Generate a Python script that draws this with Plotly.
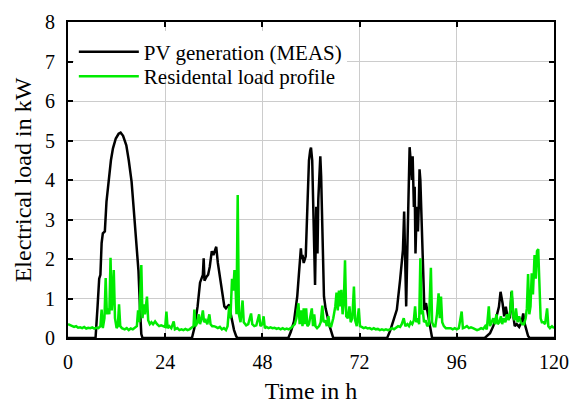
import plotly.graph_objects as go

# PV generation (MEAS) keypoints
pv_t = [0, 6.8, 7.3, 7.7, 8.0, 8.3, 8.6, 9.1, 9.5, 10.0, 10.2, 10.6, 11.1, 11.8, 12.5, 13.0, 13.6, 14.4, 15.0, 15.7,
        16.2, 16.5, 17.0, 17.2, 17.4, 17.8, 18.1, 18.4,
        30.6, 31.2, 32.0, 32.6, 32.9, 33.3, 33.5, 33.7, 34.2, 34.6, 35.0, 35.2, 35.5, 35.9, 36.3, 36.6, 37.0, 37.4,
        37.8, 38.2, 38.6, 39.0, 39.4, 39.8, 40.2, 40.6, 41.0, 41.5, 41.8,
        54.4, 55.0, 55.8, 56.2, 56.6, 57.0, 57.5, 57.7, 57.9, 58.2, 58.7, 59.1, 59.5, 59.8, 60.0, 60.3, 60.6, 61.0,
        61.3, 61.6, 61.8, 62.0, 62.3, 62.5, 62.8, 63.2, 63.6, 64.0, 64.6, 65.2, 65.5,
        78.8, 79.6, 80.4, 81.2, 82.0, 82.7, 83.0, 83.3, 83.5, 83.8, 84.2, 84.35, 84.6, 84.9, 85.1, 85.4, 85.6, 85.8,
        86.1, 86.4, 86.6, 86.8, 87.0, 87.4, 87.8, 88.0, 88.2, 88.4, 88.7, 89.0, 89.4, 89.9,
        102.9, 104.2, 105.0, 105.8, 106.4, 106.8, 107.3, 107.7, 108.1, 108.5, 109.1, 109.5, 109.9, 110.3, 110.8,
        111.4, 112.0, 112.4, 112.8, 113.2, 113.6, 114.0, 120]
pv_v = [0, 0, 0.8, 1.5, 1.6, 2.4, 2.65, 2.7, 3.45, 3.9, 4.2, 4.5, 4.8, 5.05, 5.17, 5.2, 5.12, 4.88, 4.5, 3.96,
        3.3, 2.86, 2.2, 1.85, 1.7, 0.7, 0.1, 0,
        0, 0.25, 0.8, 1.4, 1.5, 1.6, 2.02, 1.45, 1.55, 1.6, 1.8, 1.97, 2.2, 2.1, 2.25, 2.31, 1.9, 1.6,
        1.3, 1.0, 0.8, 0.75, 0.8, 0.85, 0.6, 0.4, 0.2, 0.05, 0,
        0, 0.15, 0.42, 0.7, 1.05, 1.6, 2.27, 2.0, 2.1, 1.9, 2.07, 3.3, 4.5, 4.75, 4.82, 4.5, 3.3, 1.34,
        3.32, 2.14, 3.5, 4.17, 4.6, 4.1, 2.5, 1.05, 0.75, 0.54, 0.3, 0.1, 0,
        0, 0.2, 0.46, 0.72, 1.47, 2.23, 3.2, 1.47, 0.8, 2.3, 4.17, 4.83, 4.5, 4.0, 4.6, 3.32, 3.83, 2.14,
        3.32, 2.7, 3.3, 4.27, 4.0, 2.48, 1.22, 0.71, 0.85, 0.88, 0.7, 0.5, 0.25, 0,
        0, 0.12, 0.3, 0.54, 0.79, 1.17, 0.88, 0.55, 0.79, 0.55, 0.5, 1.17, 0.6, 0.3, 0.35,
        0.28, 0.4, 0.62, 0.35, 0.2, 0.05, 0, 0]

# Residental load profile keypoints
load_t = [0, 0.5, 1, 1.5, 2, 2.5, 3, 3.5, 4, 4.5, 5, 5.5, 6, 6.5, 7, 7.5, 8, 8.3, 8.6, 9, 9.3, 9.6, 9.9, 10.2,
          10.5, 10.8, 11.0, 11.3, 11.6, 12.0, 12.3, 12.6, 12.9, 13.3, 14, 14.5, 15, 15.5, 16, 16.5, 17, 17.3,
          17.6, 18.1, 18.4, 18.7, 19.0, 19.5, 19.8, 20.2, 20.6, 21, 21.5, 22, 22.5, 23, 23.5, 24, 24.3, 24.6,
          25, 25.5, 26.1, 26.4, 27, 27.5, 28, 28.5, 29, 29.5, 30, 30.5, 31, 31.2, 31.5, 32, 32.3, 32.6, 33,
          33.3, 33.6, 34, 34.4, 34.9, 35.2, 35.6, 36, 36.5, 37, 37.5, 38, 38.5, 39, 39.4, 39.8, 40.1, 40.5,
          40.8, 41.1, 41.4, 41.6, 41.9, 42.2, 42.6, 43.1, 43.4, 44, 44.5, 45.2, 45.5, 46, 46.5, 47.2, 47.5,
          48, 48.3, 48.6, 49, 49.5, 50, 50.5, 51, 51.5, 52, 52.5, 53, 53.5, 54, 54.5, 55, 55.5, 56, 56.4,
          56.9, 57.2, 57.6, 57.9, 58.2, 58.5, 58.8, 59.1, 59.5, 60.2, 60.5, 60.8, 61.1, 61.5, 62, 62.4, 62.8,
          63.1, 63.5, 63.9, 64.3, 64.6, 65.0, 65.5, 66.0, 66.3, 66.6, 66.9, 67.2, 67.5, 67.8, 68.1, 68.4,
          68.7, 69.1, 69.5, 69.8, 70.2, 70.6, 70.9, 71.3, 71.8, 72.1, 72.5, 73, 73.5, 74, 74.5, 75, 75.5,
          76, 76.5, 77, 77.5, 78, 78.5, 79, 79.5, 80, 80.5, 81, 81.5, 82, 82.4, 82.9, 83.3, 83.8, 84.2, 84.6,
          85.0, 85.4, 85.7, 86.0, 86.4, 86.7, 87.0, 87.3, 87.6, 87.9, 88.3, 88.7, 89.1, 89.6, 89.9, 90.3,
          90.7, 91.1, 91.5, 91.8, 92.1, 92.4, 92.8, 93.3, 94, 94.5, 95, 95.5, 96, 96.5, 97.2, 97.5, 98, 98.5,
          99, 99.5, 100, 100.5, 101, 101.5, 102, 102.5, 103, 103.4, 103.9, 104.2, 104.6, 105.0, 105.4,
          105.8, 106.1, 106.5, 106.9, 107.2, 107.6, 108.0, 108.4, 108.8, 109.2, 109.6, 109.9, 110.3, 110.6,
          111.0, 111.4, 111.8, 112.2, 112.6, 113.0, 113.3, 113.6, 113.9, 114.2, 114.5, 114.8, 115.2, 115.5,
          115.8, 116.1, 116.4, 116.7, 117.0, 117.4, 117.8, 118.3, 118.6, 119.0, 119.5, 120]
load_v = [0.35, 0.32, 0.3, 0.28, 0.3, 0.26, 0.27, 0.25, 0.28, 0.24, 0.26, 0.25, 0.27, 0.24, 0.26, 0.25, 0.3,
          0.72, 0.25, 0.5, 1.52, 0.6, 0.75, 0.6, 2.03, 0.7, 1.0, 1.72, 0.5, 0.25, 0.3, 0.85, 0.3, 0.25, 0.22,
          0.25, 0.2, 0.24, 0.22, 0.25, 0.3, 0.7, 0.4, 1.85, 0.5, 0.85, 0.6, 1.05, 0.45, 0.35, 0.4, 0.35, 0.42,
          0.35, 0.3, 0.32, 0.3, 0.28, 0.67, 0.25, 0.3, 0.25, 0.42, 0.22, 0.25, 0.2, 0.22, 0.2, 0.23, 0.2,
          0.22, 0.25, 0.3, 0.72, 0.3, 0.4, 0.6, 0.35, 0.5, 0.7, 0.4, 0.45, 0.35, 0.6, 0.35, 0.3, 0.3, 0.28,
          0.25, 0.28, 0.22, 0.25, 0.2, 0.3, 0.8, 0.5, 1.5, 1.2, 1.72, 1.2, 0.6, 3.62, 0.6, 0.4, 0.95, 0.4,
          0.32, 0.35, 0.62, 0.35, 0.3, 0.32, 0.6, 0.3, 0.35, 0.55, 0.25, 0.28, 0.25, 0.27, 0.25, 0.26, 0.23,
          0.25, 0.22, 0.25, 0.22, 0.24, 0.22, 0.25, 0.3, 0.35, 0.5, 0.88, 0.35, 0.7, 0.3, 0.75, 0.35, 0.75,
          0.3, 0.35, 0.75, 0.3, 0.6, 0.3, 0.25, 0.3, 0.4, 0.82, 0.4, 0.45, 0.3, 0.55, 0.3, 0.3, 0.5, 0.8,
          1.15, 0.7, 1.2, 0.8, 1.22, 0.6, 0.9, 1.97, 0.55, 0.5, 0.8, 0.4, 0.5, 1.3, 0.45, 0.3, 0.75, 0.3,
          0.28, 0.25, 0.27, 0.24, 0.25, 0.22, 0.25, 0.22, 0.23, 0.2, 0.22, 0.2, 0.22, 0.2, 0.22, 0.25, 0.22,
          0.25, 0.3, 0.28, 0.35, 0.5, 0.3, 0.35, 0.3, 0.4, 0.35, 0.45, 0.8, 0.4, 0.5, 0.35, 2.02, 0.6, 0.7,
          0.4, 0.45, 0.3, 0.35, 1.78, 0.4, 0.3, 0.3, 0.6, 1.13, 0.5, 1.05, 0.4, 0.3, 0.25, 0.25, 0.25, 0.22,
          0.25, 0.22, 0.25, 0.67, 0.25, 0.27, 0.3, 0.25, 0.27, 0.25, 0.22, 0.2, 0.22, 0.25, 0.23, 0.3, 0.22,
          0.8, 0.3, 0.4, 0.5, 0.35, 0.6, 0.35, 0.4, 0.55, 0.35, 0.5, 0.4, 0.6, 0.45, 0.7, 1.2, 0.55, 0.45,
          0.75, 0.4, 0.55, 0.4, 0.35, 0.35, 0.5, 0.75, 1.62, 0.6, 0.8, 1.64, 1.1, 2.1, 1.5, 2.2, 2.25, 1.0,
          0.5, 0.4, 0.4, 0.35, 0.75, 0.3, 0.25, 0.3, 0.25]

x_ticks = [0, 24, 48, 72, 96, 120]
y_ticks = [0, 1, 2, 3, 4, 5, 6, 7, 8]

FONT = "Liberation Serif, Times New Roman, serif"

fig = go.Figure()
fig.add_trace(go.Scatter(x=pv_t, y=pv_v, mode="lines", name="PV generation (MEAS)",
                         line=dict(color="black", width=2.5), legend="legend", showlegend=True))
fig.add_trace(go.Scatter(x=load_t, y=load_v, mode="lines", name="Residental load profile",
                         line=dict(color="rgb(0,235,0)", width=2.5), legend="legend2", showlegend=True))

axis_common = dict(showline=True, linecolor="black", linewidth=2, mirror="ticks",
                   ticks="inside", ticklen=5, tickwidth=1.5, tickcolor="black",
                   showgrid=True, gridcolor="#cccccc", gridwidth=1, zeroline=False,
                   automargin=False,
                   tickfont=dict(family=FONT, size=20, color="black"))

fig.update_xaxes(range=[0, 120], tickvals=x_ticks, ticklabeloverflow="allow", ticklabelstandoff=5,
                 title=dict(text="Time in h", font=dict(family=FONT, size=24, color="black"), standoff=12),
                 **axis_common)
fig.update_yaxes(range=[0, 8], tickvals=y_ticks, ticklabelstandoff=7,
                 title=dict(text="Electrical load in kW", font=dict(family=FONT, size=24, color="black"), standoff=7),
                 **axis_common)

legend_common = dict(xanchor="left", yanchor="top",
                     font=dict(family=FONT, size=21, color="black"), itemwidth=60)

fig.update_layout(
    width=569, height=404,
    margin=dict(l=68, r=15, t=22, b=66),
    showlegend=True,
    paper_bgcolor="white", plot_bgcolor="white",
    font=dict(family=FONT, color="black"),
    legend=dict(x=0.012, y=0.970, bgcolor="white", **legend_common),
    legend2=dict(x=0.012, y=0.892, bgcolor="rgba(0,0,0,0)", **legend_common),
)

fig.write_html("out.html")
